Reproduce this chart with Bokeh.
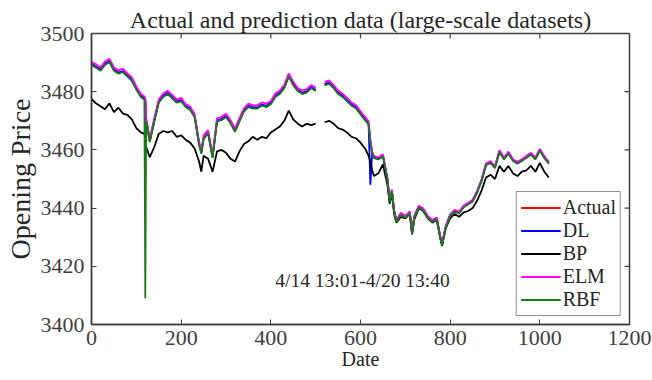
from bokeh.plotting import figure
from bokeh.models import Range1d, FixedTicker
from bokeh.core.properties import value
from bokeh.embed import file_html
from bokeh.resources import INLINE
import math

nan = float("nan")

# sample index (Date axis)
dates = [0, 10, 20, 30, 40, 50, 60, 70, 80, 90,
         100, 110, 118, 120, 122, 130, 140, 150, 160, 170,
         180, 190, 200, 210, 220, 230, 240, 245, 250, 260,
         270, 280, 290, 300, 310, 320, 330, 340, 350, 360,
         370, 380, 390, 400, 410, 420, 430, 440, 450, 460,
         470, 480, 490, 500, 510, 520, 530, 540, 550, 560,
         570, 580, 590, 600, 610, 618, 622, 626, 630, 640,
         650, 660, 665, 670, 675, 680, 690, 700, 710, 715,
         720, 730, 740, 750, 760, 770, 778, 782, 790, 800,
         810, 820, 830, 840, 850, 860, 870, 880, 890, 900,
         910, 920, 930, 940, 950, 960, 970, 980, 990, 1000,
         1010, 1020]

actual = [3489.5, 3488.5, 3487.5, 3489.5, 3490.5, 3487.5, 3486.5, 3487.0, 3485.5, 3484.0,
          3481.0, 3478.5, 3477.5, 3477.0, 3470.0, 3463.0, 3470.0, 3476.5, 3478.5, 3479.5,
          3478.0, 3476.5, 3477.0, 3475.0, 3474.0, 3471.5, 3462.0, 3459.0, 3464.0, 3466.0,
          3457.5, 3470.0, 3470.5, 3471.5, 3469.5, 3466.5, 3470.0, 3473.5, 3475.0, 3474.5,
          3474.5, 3475.5, 3475.0, 3476.0, 3478.5, 3479.5, 3481.5, 3485.5, 3482.5, 3480.5,
          3479.5, 3480.0, 3481.5, 3480.5, nan, 3482.5, 3483.0, 3481.5, 3479.5, 3478.5,
          3477.0, 3475.5, 3474.5, 3472.5, 3470.5, 3469.0, 3463.0, 3459.0, 3457.5, 3457.0,
          3458.0, 3450.0, 3442.5, 3446.0, 3439.0, 3435.5, 3438.0, 3437.0, 3438.5, 3431.5,
          3437.0, 3440.5, 3439.5, 3437.0, 3435.5, 3436.5, 3430.0, 3427.5, 3433.5, 3437.5,
          3439.0, 3438.5, 3440.5, 3441.5, 3442.5, 3445.5, 3449.5, 3455.0, 3455.8, 3454.0,
          3459.5, 3457.0, 3459.0, 3456.5, 3455.5, 3456.5, 3457.5, 3458.7, 3457.0, 3460.0,
          3457.5, 3455.5]

dl = [3489.6, 3488.6, 3487.6, 3489.6, 3490.6, 3487.6, 3486.6, 3487.1, 3485.6, 3484.1,
      3481.1, 3478.6, 3477.6, 3477.1, 3470.1, 3463.1, 3470.1, 3476.6, 3478.6, 3479.6,
      3478.1, 3476.6, 3477.1, 3475.1, 3474.1, 3471.6, 3462.1, 3459.1, 3464.1, 3466.1,
      3457.6, 3470.1, 3470.6, 3471.6, 3469.6, 3466.6, 3470.1, 3473.6, 3475.1, 3474.6,
      3474.6, 3475.6, 3475.1, 3476.1, 3478.6, 3479.6, 3481.6, 3485.6, 3482.6, 3480.6,
      3479.6, 3480.1, 3481.6, 3480.6, nan, 3482.6, 3483.1, 3481.6, 3479.6, 3478.6,
      3477.1, 3475.6, 3474.6, 3472.6, 3470.6, 3469.1, 3448.0, 3459.1, 3457.6, 3457.1,
      3458.1, 3450.1, 3442.6, 3446.1, 3439.1, 3435.6, 3438.1, 3437.1, 3438.6, 3431.6,
      3437.1, 3440.6, 3439.6, 3437.1, 3435.6, 3436.6, 3430.1, 3427.6, 3433.6, 3437.6,
      3439.1, 3438.6, 3440.6, 3441.6, 3442.6, 3445.6, 3449.6, 3455.1, 3455.9, 3454.1,
      3459.6, 3457.1, 3459.1, 3456.6, 3455.6, 3456.6, 3457.6, 3458.8, 3457.1, 3460.1,
      3457.6, 3455.6]

bp = [3477.5, 3476.0, 3475.0, 3474.0, 3476.0, 3473.0, 3474.5, 3472.5, 3472.0, 3470.5,
      3467.5, 3466.0, 3465.5, 3465.0, 3461.0, 3457.5, 3461.0, 3465.5, 3466.5, 3466.0,
      3466.5, 3464.5, 3465.0, 3463.5, 3462.5, 3460.5, 3456.0, 3452.5, 3458.0, 3457.0,
      3452.5, 3459.5, 3460.0, 3459.0, 3457.0, 3456.0, 3459.5, 3462.0, 3463.0, 3464.5,
      3463.5, 3464.5, 3464.0, 3466.0, 3467.0, 3468.0, 3470.0, 3473.5, 3470.5, 3469.0,
      3468.0, 3469.0, 3468.5, 3469.0, nan, 3469.5, 3470.0, 3469.0, 3467.5, 3467.0,
      3466.0, 3464.5, 3464.0, 3462.5, 3460.5, 3458.0, 3456.0, 3453.0, 3451.0, 3452.0,
      3455.0, 3448.0, 3441.5, 3445.0, 3438.0, 3435.0, 3437.0, 3436.5, 3438.0, 3431.0,
      3436.0, 3440.0, 3439.0, 3436.5, 3435.0, 3436.0, 3429.5, 3427.0, 3433.0, 3436.5,
      3438.0, 3437.0, 3438.5, 3439.0, 3440.0, 3442.5, 3446.0, 3450.5, 3451.5, 3450.0,
      3454.5, 3452.5, 3454.5, 3452.0, 3451.0, 3452.5, 3453.0, 3454.5, 3452.5, 3455.5,
      3452.5, 3450.5]

elm = [3490.3, 3489.4, 3488.3, 3490.4, 3491.3, 3488.4, 3487.3, 3487.9, 3486.3, 3484.9,
       3481.8, 3479.3, 3478.4, 3477.8, 3470.9, 3463.8, 3470.9, 3477.3, 3479.4, 3480.3,
       3478.9, 3477.3, 3477.9, 3475.8, 3474.9, 3472.3, 3462.9, 3459.8, 3464.9, 3466.8,
       3458.4, 3470.9, 3471.3, 3472.4, 3470.3, 3467.4, 3470.9, 3474.3, 3475.9, 3475.3,
       3475.4, 3476.3, 3475.9, 3476.8, 3479.4, 3480.3, 3482.4, 3486.3, 3483.4, 3481.3,
       3480.4, 3480.9, 3482.3, 3481.4, nan, 3483.4, 3483.9, 3482.3, 3480.4, 3479.3,
       3477.9, 3476.3, 3475.4, 3473.3, 3471.4, 3469.8, 3463.6, 3459.5, 3457.9, 3457.4,
       3458.5, 3450.4, 3442.8, 3446.4, 3439.3, 3435.8, 3438.4, 3437.3, 3438.9, 3431.8,
       3437.4, 3440.8, 3439.9, 3437.3, 3435.9, 3436.8, 3430.3, 3427.8, 3433.9, 3437.8,
       3439.4, 3438.8, 3440.9, 3441.8, 3442.9, 3445.8, 3449.9, 3455.3, 3456.2, 3454.3,
       3459.9, 3457.3, 3459.4, 3456.8, 3455.9, 3456.8, 3457.9, 3459.0, 3457.4, 3460.3,
       3457.9, 3455.8]

rbf = [3489.2, 3488.2, 3487.2, 3489.2, 3490.2, 3487.2, 3486.2, 3486.7, 3485.2, 3483.7,
       3480.7, 3478.2, 3477.2, 3409.0, 3469.7, 3462.7, 3469.7, 3476.2, 3478.2, 3479.2,
       3477.7, 3476.2, 3476.7, 3474.7, 3473.7, 3471.2, 3461.7, 3458.7, 3463.7, 3465.7,
       3457.2, 3469.7, 3470.2, 3471.2, 3469.2, 3466.2, 3469.7, 3473.2, 3474.7, 3474.2,
       3474.2, 3475.2, 3474.7, 3475.7, 3478.2, 3479.2, 3481.2, 3485.2, 3482.2, 3480.2,
       3479.2, 3479.7, 3481.2, 3480.2, nan, 3482.2, 3482.7, 3481.2, 3479.2, 3478.2,
       3476.7, 3475.2, 3474.2, 3472.2, 3470.2, 3468.7, 3462.7, 3458.7, 3457.2, 3456.7,
       3457.7, 3449.7, 3442.2, 3445.7, 3438.7, 3435.2, 3437.7, 3436.7, 3438.2, 3431.2,
       3436.7, 3440.2, 3439.2, 3436.7, 3435.2, 3436.2, 3429.7, 3427.2, 3433.2, 3437.2,
       3438.7, 3438.2, 3440.2, 3441.2, 3442.2, 3445.2, 3449.2, 3454.7, 3455.5, 3453.7,
       3459.2, 3456.7, 3458.7, 3456.2, 3455.2, 3456.2, 3457.2, 3458.4, 3456.7, 3459.7,
       3457.2, 3455.2]

x_ticks = [0, 200, 400, 600, 800, 1000, 1200]
y_ticks = [3400, 3420, 3440, 3460, 3480, 3500]
period_text = "4/14 13:01-4/20 13:40"

FONT = "Liberation Serif"
AX = "#404040"
X0, X1, Y0, Y1 = 0, 1200, 3400, 3500

p = figure(width=652, height=380, output_backend="svg", toolbar_location=None,
           x_range=Range1d(X0, X1), y_range=Range1d(Y0, Y1),
           min_border_left=91, min_border_right=23, min_border_top=33, min_border_bottom=56,
           title="Actual and prediction data (large-scale datasets)")
p.title.text_font = FONT
p.title.text_font_size = "24px"
p.title.text_font_style = "normal"
p.title.text_color = "#262626"
p.title.align = "center"
p.title.standoff = 2
p.grid.visible = False
p.outline_line_color = AX
p.outline_line_width = 1.5

for ax in [p.xaxis[0], p.yaxis[0]]:
    ax.major_label_text_font = FONT
    ax.major_label_text_font_size = "22px"
    ax.major_label_text_color = "#404040"
    ax.axis_line_color = AX
    ax.axis_line_width = 1.5
    ax.major_tick_in = 5
    ax.major_tick_out = 0
    ax.minor_tick_in = 0
    ax.minor_tick_out = 0
    ax.major_tick_line_color = AX
    ax.axis_label_text_font = FONT
    ax.axis_label_text_font_style = "normal"
    ax.axis_label_text_color = "#262626"
p.xaxis[0].ticker = FixedTicker(ticks=x_ticks)
p.yaxis[0].ticker = FixedTicker(ticks=y_ticks)
p.xaxis[0].major_label_standoff = 6
p.xaxis[0].axis_label = "Date"
p.xaxis[0].axis_label_text_font_size = "20px"
p.xaxis[0].axis_label_standoff = 0
p.yaxis[0].major_label_standoff = 7
p.yaxis[0].axis_label = "Opening Price"
p.yaxis[0].axis_label_text_font_size = "28px"
p.yaxis[0].axis_label_standoff = 2

# inward tick marks on the top and right edges (half of each dash is clipped by the frame)
p.scatter(x=x_ticks[1:-1], y=[Y1] * (len(x_ticks) - 2), marker="dash", size=10,
          angle=math.pi / 2, line_color=AX, line_width=1.2)
p.scatter(x=[X1] * (len(y_ticks) - 2), y=y_ticks[1:-1], marker="dash", size=10,
          line_color=AX, line_width=1.2)

W = 1.8
p.line(dates, actual, color="#ff0000", line_width=W, legend_label="Actual")
p.line(dates, dl, color="#0000ff", line_width=W, legend_label="DL")
p.line(dates, bp, color="#000000", line_width=W, legend_label="BP")
p.line(dates, elm, color="#ff00ff", line_width=W, legend_label="ELM")
p.line(dates, rbf, color="#1a7a1a", line_width=W, legend_label="RBF")

p.text(x=[410], y=[3415], text=[period_text], text_font=value(FONT),
       text_font_size="19.5px", text_baseline="middle", text_align="left",
       text_color="#262626")

lg = p.legend[0]
lg.location = "bottom_right"
lg.margin = 8
lg.padding = 4
lg.spacing = 0
lg.glyph_width = 40
lg.glyph_height = 23
lg.label_height = 23
lg.label_standoff = 2
lg.label_text_font = FONT
lg.label_text_font_size = "20px"
lg.label_text_color = "#262626"
lg.border_line_color = "#262626"
lg.border_line_width = 1
lg.background_fill_color = "white"
lg.background_fill_alpha = 1

open("out.html", "w").write(file_html(p, INLINE))
